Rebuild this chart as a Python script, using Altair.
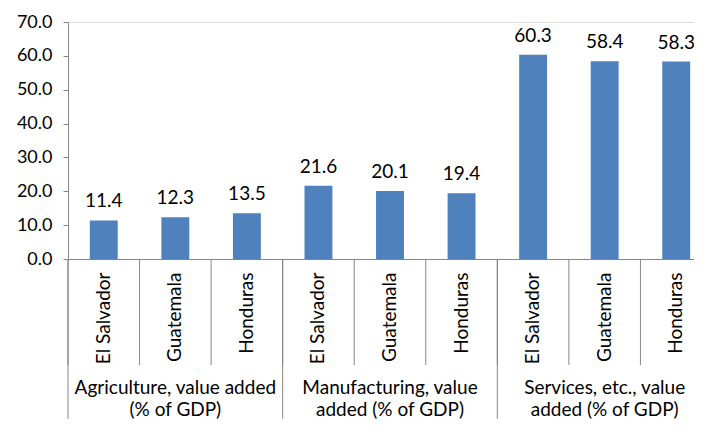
import altair as alt
import pandas as pd

countries = ["El Salvador", "Guatemala", "Honduras"]
group_lines = [
    "Agriculture, value added\n(% of GDP)",
    "Manufacturing, value\nadded (% of GDP)",
    "Services, etc., value\nadded (% of GDP)",
]
agriculture = [11.4, 12.3, 13.5]
manufacturing = [21.6, 20.1, 19.4]
services = [60.3, 58.4, 58.3]
y_ticks = [0, 10, 20, 30, 40, 50, 60, 70]

series = [agriculture, manufacturing, services]
rows = []
for gi, vals in enumerate(series):
    for ci, c in enumerate(countries):
        rows.append({"key": f"{gi}|{c}", "country": c, "group": gi, "value": vals[ci]})
df = pd.DataFrame(rows)
order = list(df["key"])

gdf = pd.DataFrame({
    "start": [f"{gi}|{countries[0]}" for gi in range(3)],
    "mid": [f"{gi}|{countries[1]}" for gi in range(3)],
    "label": group_lines,
})

FONT = "Lato"
AX = "#868686"
H = 237
FS = 19

xscale = alt.Scale(domain=order, paddingInner=0, paddingOuter=0)

x_enc = alt.X(
    "key:N", sort=order, scale=xscale, title=None,
    axis=alt.Axis(
        labelAngle=-90, labelExpr="split(datum.label, '|')[1]",
        ticks=False, labelPadding=13, domainColor=AX, labelFont=FONT,
        labelFontSize=FS, labelColor="#000000", grid=False, labelOverlap=False,
    ),
)
y_enc = alt.Y(
    "value:Q", scale=alt.Scale(domain=[0, 70], nice=False, zero=True), title=None,
    axis=alt.Axis(
        values=y_ticks, format=".1f", grid=False, domainColor=AX, tickColor=AX,
        tickSize=5, labelPadding=11, labelFont=FONT, labelFontSize=18,
        labelColor="#000000", labelOverlap=False, labelFlush=False,
    ),
)

base = alt.Chart(df)
bars = base.mark_bar(color="#4F81BD", width=alt.RelativeBandSize(0.39)).encode(x=x_enc, y=y_enc)
labels = base.mark_text(font=FONT, fontSize=FS, color="#000000", baseline="alphabetic", dy=-13).encode(
    x=x_enc,
    y=y_enc,
    text=alt.Text("value:Q", format=".1f"),
)
seps = base.mark_rule(color=AX, strokeWidth=1).encode(
    x=alt.X("key:N", sort=order, scale=xscale, bandPosition=0),
    y=alt.value(H),
    y2=alt.value(H + 106),
)
gseps = alt.Chart(gdf).mark_rule(color=AX, strokeWidth=1).encode(
    x=alt.X("start:N", sort=order, scale=xscale, bandPosition=0),
    y=alt.value(H),
    y2=alt.value(H + 170),
)
glabels = alt.Chart(gdf).mark_text(
    font=FONT, fontSize=FS, color="#000000", lineBreak="\n", lineHeight=22,
    baseline="middle", align="center",
).encode(
    x=alt.X("mid:N", sort=order, scale=xscale),
    y=alt.value(H + 129),
    text="label:N",
)

chart = alt.layer(bars, labels, seps, gseps, glabels).properties(
    width=644, height=H,
    autosize=alt.AutoSizeParams(type="none"),
    padding={"left": 60, "top": 14, "right": -18, "bottom": 160},
).configure_view(stroke=None).configure(background="white")

chart.save("out.html", embed_options={"renderer": "svg", "actions": False})
